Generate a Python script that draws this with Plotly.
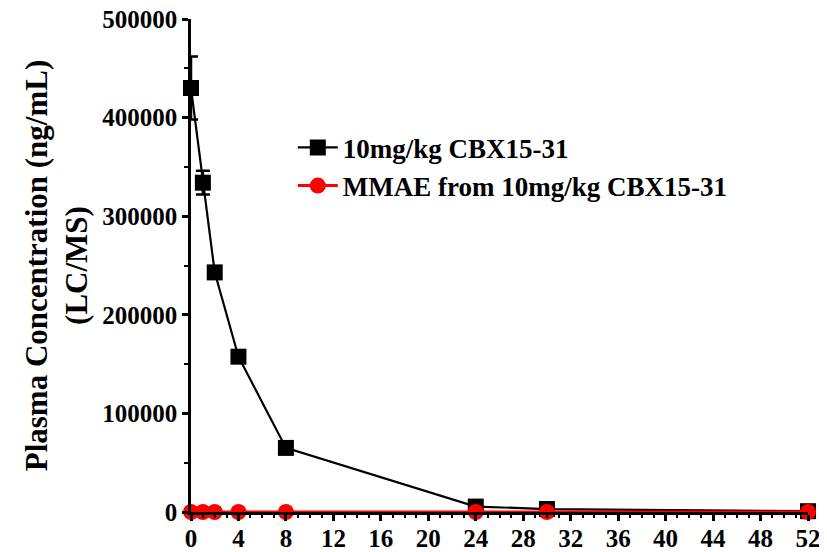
import plotly.graph_objects as go

time_h = [0, 1, 2, 4, 8, 24, 30, 52]
adc_conc = [430000, 334000, 243000, 157500, 65000, 5500, 3000, 800]
adc_err = [32000, 12000, 3000, 3000, 2000, 500, 300, 100]
mmae_conc = [20, 20, 20, 20, 20, 20, 20, 20]
x_ticks = list(range(0, 53, 4))
y_ticks = [0, 100000, 200000, 300000, 400000, 500000]

font_family = "Liberation Serif"

fig = go.Figure()
fig.add_trace(go.Scatter(
    x=time_h, y=adc_conc, mode="lines+markers", name="<b>10mg/kg CBX15-31</b>",
    line=dict(color="black", width=2.2),
    marker=dict(symbol="square", size=16, color="black"),
    error_y=dict(type="data", array=adc_err, color="black", thickness=2.5, width=7),
    cliponaxis=False,
))
fig.add_trace(go.Scatter(
    x=time_h, y=mmae_conc, mode="lines+markers", name="<b>MMAE from 10mg/kg CBX15-31</b>",
    line=dict(color="red", width=3),
    marker=dict(symbol="circle", size=16, color="red"),
    cliponaxis=False,
))

# page body adds an 8px offset; size the figure to fit the window
fig.update_layout(
    width=819, height=544,
    margin=dict(l=183, r=19, t=11, b=40, autoexpand=False),
    paper_bgcolor="white", plot_bgcolor="white",
    font=dict(family=font_family, size=25, color="black"),
    showlegend=True,
    legend=dict(x=0.165, y=0.70, xanchor="left", yanchor="middle",
                font=dict(family=font_family, size=27, color="black"),
                bgcolor="rgba(0,0,0,0)", itemwidth=40, tracegroupgap=4),
)
fig.update_xaxes(
    range=[0, 52], tickvals=x_ticks, ticktext=[f"<b>{v}</b>" for v in x_ticks],
    showline=True, linecolor="black", linewidth=2.5,
    ticks="outside", ticklen=6, tickwidth=2.5, tickcolor="black",
    minor=dict(dtick=1, ticks="outside", ticklen=3, tickwidth=2, tickcolor="black"),
    showgrid=False, zeroline=False, automargin=False,
    ticklabeloverflow="allow", ticklabelstandoff=-4,
    tickfont=dict(family=font_family, size=25, color="black"),
)
fig.update_yaxes(
    range=[0, 500000], tickvals=y_ticks, ticktext=[f"<b>{v}</b>" for v in y_ticks],
    showline=True, linecolor="black", linewidth=2.5,
    ticks="outside", ticklen=6, tickwidth=2.5, tickcolor="black",
    minor=dict(dtick=50000, ticks="outside", ticklen=4, tickwidth=2, tickcolor="black"),
    showgrid=False, zeroline=False, automargin=False,
    ticklabeloverflow="allow",
    tickfont=dict(family=font_family, size=25, color="black"),
    title=dict(text="<b>Plasma Concentration (ng/mL)<br>(LC/MS)</b>",
               font=dict(family=font_family, size=31, color="black"), standoff=6),
)

fig.write_html("out.html")
